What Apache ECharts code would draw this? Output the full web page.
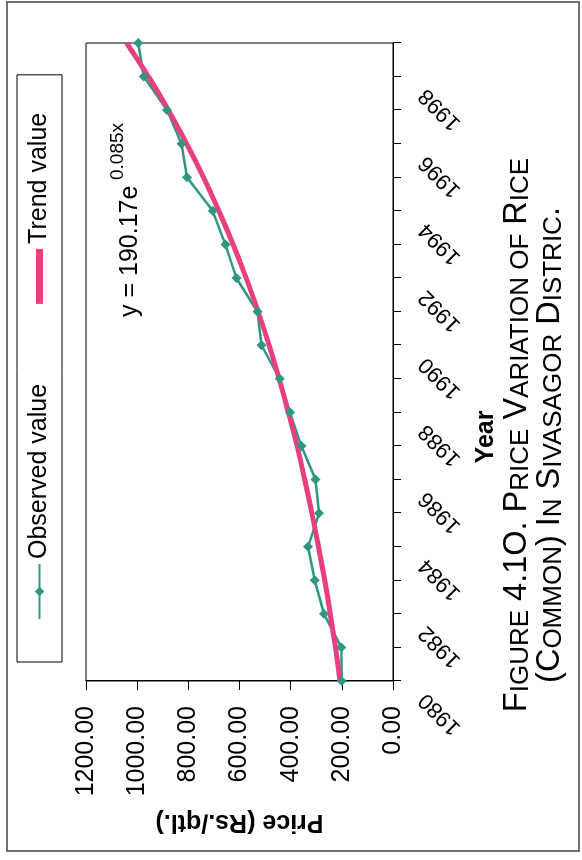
<!DOCTYPE html>
<html>
<head>
<meta charset="utf-8">
<script src="https://cdn.jsdelivr.net/npm/echarts@6/dist/echarts.min.js"></script>
<style>
  html, body { margin: 0; padding: 0; background: #fff; }
  body { width: 582px; height: 860px; position: relative; overflow: hidden; }
  /* the figure is printed sideways: draw it upright, then turn it */
  #main {
    position: absolute; left: 0; top: 0;
    width: 860px; height: 582px;
    transform-origin: 0 0;
    transform: translateY(860px) rotate(-90deg);
  }
</style>
</head>
<body>
<div id="main"></div>
<script>
  var years = ['1980', '1981', '1982', '1983', '1984', '1985', '1986', '1987', '1988', '1989',
               '1990', '1991', '1992', '1993', '1994', '1995', '1996', '1997', '1998', '1999'];
  // Rs./qtl.
  var observed = [200, 202, 270, 306, 332, 289, 303, 358, 403, 443,
                  514, 530, 612, 655, 705, 805, 827, 883, 974, 996];
  var trend = [207, 225, 245, 267, 291, 317, 345, 375, 409, 445,
               484, 527, 574, 625, 681, 741, 807, 878, 956, 1041];
  var priceMin = 0, priceMax = 1200, priceStep = 200;

  var FONT = '"Liberation Sans", Arial, sans-serif';
  var TEAL = '#2e9682';
  var PINK = '#e8407f';

  var myChart = echarts.init(document.getElementById('main'));

  // small caps for the caption
  var capsRich = {
    b: { fontSize: 32.5, fontFamily: FONT, fill: '#000', lineHeight: 32, verticalAlign: 'bottom' },
    s: { fontSize: 26, fontFamily: FONT, fill: '#000', lineHeight: 32, verticalAlign: 'bottom' }
  };

  var option = {
    backgroundColor: '#fff',
    animation: false,
    textStyle: { fontFamily: FONT, color: '#000' },
    grid: {
      left: 179, right: 43, top: 86, bottom: 189,
      show: true, borderColor: '#000', borderWidth: 1
    },
    legend: {
      left: 198, top: 17,
      padding: [10, 38, 10, 42],
      itemGap: 80,
      itemWidth: 55, itemHeight: 12,
      borderColor: '#000', borderWidth: 1,
      textStyle: { fontSize: 25, color: '#000', fontFamily: FONT },
      data: [
        'Observed value',
        { name: 'Trend value', icon: 'path://M0,0L55,0L55,7L0,7Z' }
      ]
    },
    xAxis: {
      type: 'category',
      data: years,
      boundaryGap: false,
      axisLine: { lineStyle: { color: '#000', width: 1 } },
      axisTick: { interval: 0, length: 8, lineStyle: { color: '#000' } },
      axisLabel: {
        interval: 1, rotate: 45, margin: 14,
        padding: [0, 22, 0, 0],
        fontSize: 22, color: '#000', fontFamily: FONT
      },
      splitLine: { show: false }
    },
    yAxis: {
      type: 'value',
      min: priceMin, max: priceMax, interval: priceStep,
      name: 'Price (Rs./qtl.)',
      nameLocation: 'middle', nameRotate: 90, nameGap: 128,
      nameTextStyle: { fontSize: 25, fontWeight: 'bold', color: '#000', fontFamily: FONT },
      axisLine: { show: true, lineStyle: { color: '#000', width: 1 } },
      axisTick: { show: true, length: 9, lineStyle: { color: '#000' } },
      axisLabel: {
        margin: 25, fontSize: 25, color: '#000', fontFamily: FONT,
        formatter: function (v) { return v.toFixed(2); }
      },
      splitLine: { show: false }
    },
    series: [
      {
        name: 'Observed value',
        type: 'line',
        data: observed,
        symbol: 'diamond', symbolSize: 10,
        itemStyle: { color: TEAL },
        lineStyle: { color: TEAL, width: 2.5 }
      },
      {
        name: 'Trend value',
        type: 'line',
        data: trend,
        smooth: true,
        symbol: 'none',
        itemStyle: { color: PINK },
        lineStyle: { color: PINK, width: 5 }
      }
    ],
    graphic: [
      // outer frame of the figure
      { type: 'rect', shape: { x: 9, y: 7, width: 849, height: 572 },
        style: { fill: 'none', stroke: '#444', lineWidth: 1.5 }, silent: true },
      // trend equation
      { type: 'text', style: { x: 543, y: 130, text: 'y = 190.17e', font: '25px ' + FONT,
        fill: '#000', textAlign: 'left', textVerticalAlign: 'middle' } },
      { type: 'text', style: { x: 680, y: 118, text: '0.085x', font: '19px ' + FONT,
        fill: '#000', textAlign: 'left', textVerticalAlign: 'middle' } },
      // x axis title
      { type: 'text', style: { x: 423, y: 486, text: 'Year', font: 'bold 25px ' + FONT,
        fill: '#000', textAlign: 'center', textVerticalAlign: 'middle' } },
      // caption
      { type: 'text', style: {
        x: 425, y: 518, textAlign: 'center', textVerticalAlign: 'middle', fill: '#000',
        text: '{b|F}{s|IGURE}{b| 4.1O. P}{s|RICE}{b| V}{s|ARIATION OF}{b| R}{s|ICE}',
        rich: capsRich } },
      { type: 'text', style: {
        x: 415, y: 551, textAlign: 'center', textVerticalAlign: 'middle', fill: '#000',
        text: '{b|(C}{s|OMMON}{b|) I}{s|N}{b| S}{s|IVASAGOR}{b| D}{s|ISTRIC}{b|.}',
        rich: capsRich } }
    ]
  };

  myChart.setOption(option);
</script>
</body>
</html>
